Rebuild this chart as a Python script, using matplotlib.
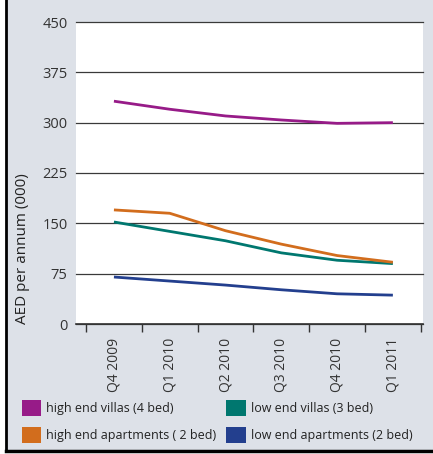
import matplotlib.pyplot as plt
from matplotlib.patches import Patch, Rectangle
from matplotlib.lines import Line2D
from matplotlib.ticker import FixedLocator

plt.rcParams['font.family'] = ['Open Sans', 'DejaVu Sans']

# Datos
quarters = ['Q4 2009', 'Q1 2010', 'Q2 2010', 'Q3 2010', 'Q4 2010', 'Q1 2011']
high_villas = [332, 320, 310, 304, 299, 300]
low_villas = [152, 138, 124, 106, 95, 90]
high_apts = [170, 165, 139, 119, 102, 92]
low_apts = [70, 64, 58, 51, 45, 43]
yticks = [0, 75, 150, 225, 300, 375, 450]

series = [
    ('high end villas (4 bed)', high_villas, '#971b88'),
    ('low end villas (3 bed)', low_villas, '#00776f'),
    ('high end apartments ( 2 bed)', high_apts, '#d26d1d'),
    ('low end apartments (2 bed)', low_apts, '#233f8e'),
]

fig = plt.figure(figsize=(4.33, 4.54), dpi=100)
fig.patch.set_facecolor('white')

# Fondo gris con borde negro a la izquierda y abajo
fig.add_artist(Rectangle((6 / 433, 3 / 454), 1, 1, transform=fig.transFigure,
                         facecolor='#dde1e8', edgecolor='none', zorder=-10))
fig.add_artist(Line2D([6 / 433, 6 / 433], [3 / 454, 1], transform=fig.transFigure,
                      color='black', lw=2, zorder=-5))
fig.add_artist(Line2D([6 / 433, 1], [3 / 454, 3 / 454], transform=fig.transFigure,
                      color='black', lw=2.5, zorder=-5))

ax = fig.add_axes([76 / 433, 1 - 324 / 454, 347 / 433, 302 / 454])
ax.set_facecolor('white')

x = list(range(len(quarters)))
for name, vals, color in series:
    ax.plot(x, vals, color=color, lw=2, solid_capstyle='butt')

ax.set_ylim(0, 450)
ax.set_xlim(-0.68, 5.54)
ax.set_yticks(yticks)
ax.tick_params(axis='y', length=0, pad=6, labelsize=10.5, labelcolor='#333333')
ax.yaxis.grid(True, color='#3a3a3a', lw=0.9)
for gl in ax.get_ygridlines():
    gl.set_clip_on(False)
ax.set_axisbelow(True)

ax.set_xticks(x)
ax.set_xticklabels(quarters, rotation=90, fontsize=10, color='#333333')
ax.tick_params(axis='x', which='major', length=0, pad=10)
ax.xaxis.set_minor_locator(FixedLocator([i - 0.5 for i in range(len(quarters) + 1)]))
ax.tick_params(axis='x', which='minor', length=6, width=1, color='#333333', direction='out')

for s in ['top', 'right', 'left']:
    ax.spines[s].set_visible(False)
ax.spines['bottom'].set_color('#333333')
ax.spines['bottom'].set_linewidth(1.2)

ax.set_ylabel('AED per annum (000)', fontsize=11, color='#222222')
ax.yaxis.set_label_coords(-0.133, 0.25)

handles = [Patch(facecolor=c, edgecolor='none', label=n) for n, v, c in series]
order = [0, 2, 1, 3]
fig.legend([handles[i] for i in order], [series[i][0] for i in order],
           ncol=2, loc='upper left', bbox_to_anchor=(0.039, 1 - 395 / 454),
           frameon=False, fontsize=9, handlelength=1.55, handleheight=1.55,
           handletextpad=0.4, columnspacing=0.8, labelspacing=0.9,
           labelcolor='#222222', borderaxespad=0)

fig.savefig('out.png', dpi=100)
